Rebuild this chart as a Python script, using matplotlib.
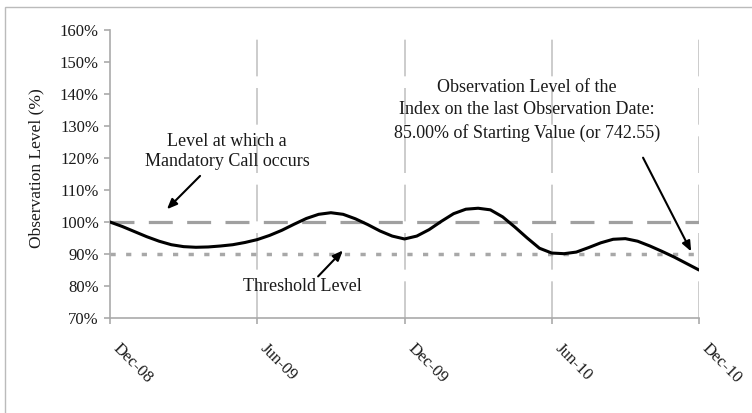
import matplotlib
matplotlib.use("Agg")
import matplotlib.pyplot as plt
from matplotlib.patches import Rectangle

plt.rcParams['font.family'] = ['Liberation Serif', 'DejaVu Serif']

# months after Dec-08, every half month
months = [0.0, 0.5, 1.0, 1.5, 2.0, 2.5, 3.0, 3.5, 4.0, 4.5, 5.0, 5.5, 6.0,
          6.5, 7.0, 7.5, 8.0, 8.5, 9.0, 9.5, 10.0, 10.5, 11.0, 11.5, 12.0,
          12.5, 13.0, 13.5, 14.0, 14.5, 15.0, 15.5, 16.0, 16.5, 17.0, 17.5, 18.0,
          18.5, 19.0, 19.5, 20.0, 20.5, 21.0, 21.5, 22.0, 22.5, 23.0, 23.5, 24.0]
level = [100.0, 98.6, 97.0, 95.4, 94.0, 92.9, 92.3, 92.1, 92.2, 92.5, 92.9, 93.6, 94.5,
         95.8, 97.4, 99.3, 101.1, 102.4, 102.9, 102.4, 101.0, 99.2, 97.2, 95.6, 94.7,
         95.6, 97.6, 100.2, 102.6, 104.0, 104.3, 103.8, 101.6, 98.4, 95.0, 91.8, 90.3,
         90.1, 90.6, 92.0, 93.5, 94.6, 94.8, 94.0, 92.5, 90.8, 89.0, 87.0, 85.0]

call_level = 100
threshold = 90

tick_pos = [0, 6, 12, 18, 24]
tick_labels = ['Dec-08', 'Jun-09', 'Dec-09', 'Jun-10', 'Dec-10']
y_ticks = list(range(70, 161, 10))

txt = '#1a1a1a'

fig = plt.figure(figsize=(7.52, 4.13), dpi=100)
ax = fig.add_axes([110/752, 1 - 318/413, 589/752, 288/413])

# vertical dashed gridlines
for x in tick_pos[1:]:
    ax.axvline(x, color='#c4c4c4', lw=1.2, dashes=(22, 7), zorder=1)

ax.axhline(call_level, color='#a0a0a0', lw=2.3, dashes=(7.5, 4.5), zorder=2)
ax.axhline(threshold, color='#a8a8a8', lw=2.5, dashes=(1.5, 3.0), zorder=2)
ax.plot(months, level, color='black', lw=2.2, solid_capstyle='round', zorder=3)

ax.set_xlim(0, 24)
ax.set_ylim(70, 160)
ax.set_yticks(y_ticks)
ax.set_yticklabels([f'{v}%' for v in y_ticks])
ax.set_xticks(tick_pos)
ax.set_xticklabels(tick_labels, rotation=-45, ha='left', va='bottom',
                   rotation_mode='anchor')

for s in ['top', 'right']:
    ax.spines[s].set_visible(False)
for s in ['left', 'bottom']:
    ax.spines[s].set_color('#aaaaaa')
    ax.spines[s].set_linewidth(1.2)
ax.tick_params(axis='both', colors='#aaaaaa', length=4, width=1.2,
               labelcolor=txt, labelsize=12)
ax.tick_params(axis='x', pad=20)
ax.tick_params(axis='y', pad=4)

ax.set_ylabel('Observation Level (%)', fontsize=12.5, color=txt)
ax.yaxis.set_label_coords(-0.112, 0.52)

arrow = dict(arrowstyle='-|>,head_length=0.6,head_width=0.25', lw=1.5,
             color='black', shrinkA=0, shrinkB=0)

ax.text(4.77, 122.0, 'Level at which a\nMandatory Call occurs', ha='center',
        va='center', fontsize=13, color=txt, linespacing=1.25)
ax.annotate('', xy=(2.32, 104.0), xytext=(3.67, 114.4), arrowprops=arrow)

ax.text(7.82, 79.8, 'Threshold Level', ha='center', va='center',
        fontsize=13, color=txt)
ax.annotate('', xy=(9.49, 91.1), xytext=(8.48, 83.0), arrowprops=arrow)

ax.text(17.0, 134.8, 'Observation Level of the\nIndex on the last Observation Date:\n'
        '85.00% of Starting Value (or 742.55)', ha='center', va='center',
        fontsize=13, color=txt, linespacing=1.4)
ax.annotate('', xy=(23.68, 90.8), xytext=(21.72, 120.1), arrowprops=arrow)

# thin frame around the picture (top and left edges visible)
fig.add_artist(Rectangle((5/752, -0.1), 1.2, 1.1 - 7/413, transform=fig.transFigure,
                         fill=False, ec='#bbbbbb', lw=1.0))

fig.savefig('out.png', dpi=100)
